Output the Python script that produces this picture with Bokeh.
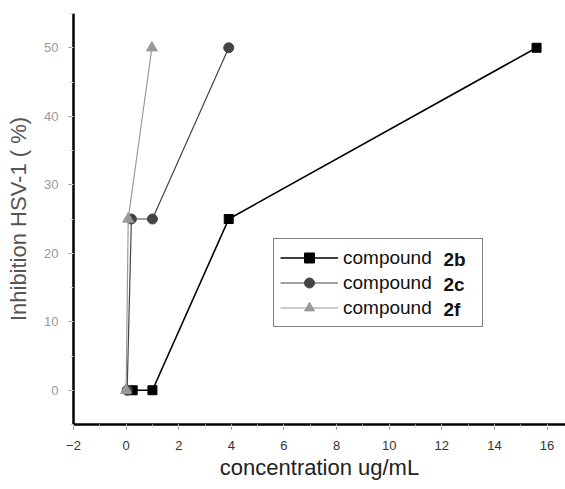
from bokeh.plotting import figure
from bokeh.models import Range1d, Legend, LegendItem, Label, SingleIntervalTicker
from bokeh.embed import file_html
from bokeh.resources import INLINE

# ---- data ----
x_2b = [0.25, 1.0, 3.9, 15.6]
y_2b = [0, 0, 25, 50]
x_2c = [0.04, 0.2, 1.0, 3.9]
y_2c = [0, 25, 25, 50]
x_2f = [0.0, 0.08, 0.98]
y_2f = [0, 25, 50]
series_names = ["compound", "compound", "compound"]
series_bold = ["2b", "2c", "2f"]

FONT = "Liberation Sans"

p = figure(width=565, height=489, output_backend="svg", toolbar_location=None,
           x_range=Range1d(-2, 16.7), y_range=Range1d(-5, 55),
           min_border_left=73, min_border_right=0, min_border_top=13, min_border_bottom=65)
p.outline_line_color = None
p.xgrid.visible = False
p.ygrid.visible = False
p.background_fill_color = "white"

styles = [
    dict(marker="square", color="black", lw=1.6, size=9),
    dict(marker="circle", color="#444444", lw=1.2, size=10),
    dict(marker="triangle", color="#999999", lw=1.2, size=11),
]
data = [(x_2b, y_2b), (x_2c, y_2c), (x_2f, y_2f)]

items = []
for (xs, ys), st, name in zip(data, styles, series_names):
    l = p.line(xs, ys, line_color=st["color"], line_width=st["lw"])
    s = p.scatter(xs, ys, marker=st["marker"], size=st["size"],
                  fill_color=st["color"], line_color=st["color"])
    items.append(LegendItem(label=name, renderers=[l, s]))

# axes
for ax in (p.xaxis[0], p.yaxis[0]):
    ax.axis_line_width = 2.5
    ax.axis_line_color = "black"
    ax.major_tick_in = 0
    ax.major_tick_out = 5
    ax.minor_tick_in = 0
    ax.minor_tick_out = 3
    ax.major_tick_line_color = "#888888"
    ax.minor_tick_line_color = "#cccccc"
    ax.major_label_text_font = FONT
    ax.major_label_text_font_size = "13px"
    ax.axis_label_text_font = FONT
    ax.axis_label_text_font_size = "22px"
    ax.axis_label_text_font_style = "normal"

p.xaxis[0].ticker = SingleIntervalTicker(interval=2, num_minor_ticks=2)
p.yaxis[0].ticker = SingleIntervalTicker(interval=10, num_minor_ticks=2)
p.xaxis[0].major_label_text_color = "#333333"
p.yaxis[0].major_label_text_color = "#999999"
p.xaxis[0].major_label_standoff = 11
p.yaxis[0].major_label_standoff = 10
p.xaxis[0].axis_label = "concentration ug/mL"
p.yaxis[0].axis_label = "Inhibition HSV-1 ( %)"
p.xaxis[0].axis_label_text_color = "#222222"
p.yaxis[0].axis_label_text_color = "#555555"
p.xaxis[0].axis_label_standoff = 2
p.yaxis[0].axis_label_standoff = 10

# legend
lx, ly = 200, 97
pad, rowh = 6, 25
legend = Legend(items=items, location=(lx, ly), margin=0, padding=pad, spacing=0,
                glyph_width=58, glyph_height=rowh, label_height=rowh, label_width=133,
                label_standoff=5, label_text_font=FONT, label_text_font_size="19px",
                label_text_color="#111111", border_line_color="black", border_line_width=1.5,
                background_fill_alpha=0.0)
p.add_layout(legend, "center")

top = ly + 2 * pad + 3 * rowh
for i, t in enumerate(series_bold):
    lab = Label(x=370, y=top - pad - rowh / 2 - rowh * i, x_units="screen", y_units="screen",
                text=t, text_font=FONT, text_font_size="19px", text_font_style="bold",
                text_baseline="middle", text_align="left", text_color="#111111")
    p.add_layout(lab, "center")

open("out.html", "w").write(file_html(p, INLINE))
